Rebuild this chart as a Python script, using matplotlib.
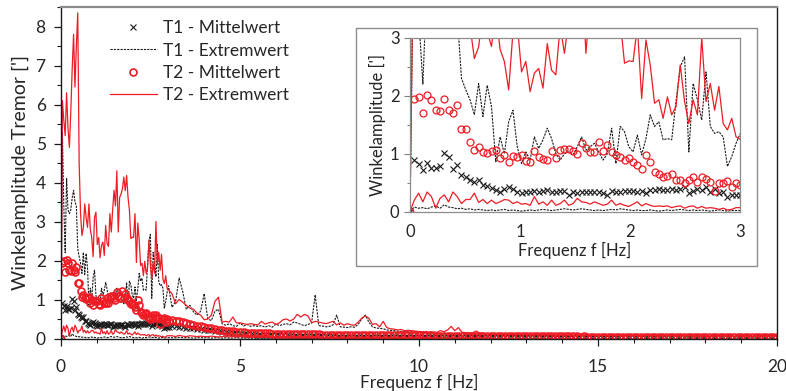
import numpy as np
import matplotlib
matplotlib.use('Agg')
import matplotlib.pyplot as plt
from matplotlib.patches import Rectangle
from matplotlib.ticker import MultipleLocator

plt.rcParams['font.family'] = ['Lato', 'DejaVu Sans']

# frequency grid: fine resolution below 3 Hz, 0.1 Hz steps above
f_lo = np.arange(78) * 0.039
f_hi = np.round(np.arange(31, 201) / 10, 1)

# ---- T1 Mittelwert ----
t1_mean_lo = [0, 0.9, 0.83, 0.72, 0.84, 0.75, 0.76, 0.79, 1.02, 0.95,
              0.74, 0.8, 0.63, 0.6, 0.55, 0.52, 0.55, 0.46, 0.44, 0.41,
              0.37, 0.34, 0.4, 0.42, 0.39, 0.34, 0.32, 0.34, 0.34, 0.36,
              0.34, 0.36, 0.37, 0.34, 0.34, 0.36, 0.36, 0.29, 0.34, 0.33,
              0.34, 0.34, 0.34, 0.34, 0.34, 0.32, 0.29, 0.36, 0.34, 0.34,
              0.36, 0.36, 0.36, 0.34, 0.36, 0.33, 0.37, 0.37, 0.4, 0.37,
              0.37, 0.4, 0.37, 0.4, 0.43, 0.33, 0.36, 0.39, 0.37, 0.43,
              0.34, 0.39, 0.32, 0.34, 0.26, 0.29, 0.29, 0.29]
t1_mean_hi = [0.32, 0.31, 0.30, 0.29, 0.28, 0.27, 0.26, 0.25, 0.24, 0.23,
              0.22, 0.21, 0.20, 0.18, 0.17, 0.16, 0.15, 0.14, 0.13, 0.12,
              0.12, 0.11, 0.11, 0.10, 0.10, 0.10, 0.09, 0.09, 0.09, 0.08,
              0.08, 0.08, 0.08, 0.07, 0.07, 0.07, 0.07, 0.07, 0.06, 0.06,
              0.06, 0.06, 0.06, 0.06, 0.05, 0.06, 0.05, 0.05, 0.05, 0.05,
              0.05, 0.05, 0.05, 0.05, 0.05, 0.04, 0.05, 0.04, 0.04, 0.04,
              0.04, 0.04, 0.04, 0.04, 0.04, 0.04, 0.04, 0.04, 0.04, 0.04,
              0.04, 0.04, 0.03, 0.04, 0.04, 0.03, 0.04, 0.03, 0.03, 0.03,
              0.03, 0.03, 0.03, 0.03, 0.03, 0.03, 0.03, 0.03, 0.03, 0.03,
              0.03, 0.03, 0.03, 0.03, 0.03, 0.03, 0.03, 0.03, 0.03, 0.03,
              0.03, 0.03, 0.03, 0.03, 0.03, 0.03, 0.03, 0.03, 0.03, 0.03,
              0.03, 0.03, 0.03, 0.03, 0.03, 0.03, 0.03, 0.03, 0.03, 0.03,
              0.03, 0.03, 0.03, 0.03, 0.03, 0.03, 0.03, 0.03, 0.03, 0.03,
              0.03, 0.03, 0.03, 0.03, 0.03, 0.03, 0.03, 0.03, 0.03, 0.03,
              0.03, 0.03, 0.03, 0.03, 0.03, 0.03, 0.03, 0.03, 0.03, 0.03,
              0.03, 0.03, 0.03, 0.03, 0.03, 0.03, 0.03, 0.03, 0.03, 0.03,
              0.03, 0.03, 0.03, 0.03, 0.03, 0.03, 0.03, 0.03, 0.03, 0.03]

# ---- T1 Extremwert (upper and lower envelope) ----
t1_max_lo = [0, 5.3, 3.4, 2.2, 4.1, 3.3, 3.2, 3.3, 3.6, 3.8,
             3.5, 3.4, 2.3, 2.1, 1.93, 1.67, 2.21, 1.64, 2.18, 1.81,
             0.86, 1.29, 1.0, 1.55, 1.75, 1.12, 0.83, 1.03, 0.89, 1.29,
             1.09, 1.24, 1.44, 1.26, 1.0, 0.89, 1.0, 1.03, 0.98, 1.12,
             1.29, 1.06, 1.12, 1.18, 1.03, 0.89, 1.0, 1.44, 0.83, 1.47,
             1.38, 1.12, 1.03, 1.32, 0.98, 1.26, 1.67, 1.47, 1.55, 1.24,
             1.26, 1.24, 1.9, 2.5, 2.67, 1.03, 2.21, 1.93, 1.58, 2.41,
             1.47, 1.35, 1.38, 1.29, 0.78, 0.95, 1.18, 1.35]
t1_max_hi = [0.8, 0.95, 1.55, 1.2, 0.75, 0.85, 0.68, 0.6, 0.7, 1.15,
             0.5, 0.46, 0.7, 0.75, 0.38, 0.34, 0.38, 0.33, 0.31, 0.4,
             0.32, 0.36, 0.31, 0.33, 0.31, 0.33, 0.29, 0.33, 0.29, 0.37,
             0.33, 0.36, 0.38, 0.35, 0.42, 0.4, 0.36, 0.33, 0.36, 0.4,
             1.12, 0.33, 0.32, 0.3, 0.31, 0.35, 0.6, 0.3, 0.29, 0.28,
             0.3, 0.29, 0.36, 0.5, 0.6, 0.42, 0.3, 0.27, 0.26, 0.25,
             0.22, 0.21, 0.2, 0.19, 0.18, 0.18, 0.17, 0.17, 0.16, 0.15,
             0.15, 0.14, 0.14, 0.13, 0.13, 0.12, 0.12, 0.12, 0.11, 0.11,
             0.11, 0.1, 0.1, 0.1, 0.09, 0.09, 0.09, 0.08, 0.08, 0.08,
             0.08, 0.08, 0.07, 0.08, 0.07, 0.07, 0.07, 0.07, 0.07, 0.06,
             0.06, 0.07, 0.06, 0.06, 0.06, 0.06, 0.06, 0.06, 0.06, 0.06,
             0.06, 0.06, 0.05, 0.06, 0.06, 0.05, 0.06, 0.05, 0.05, 0.05,
             0.05, 0.05, 0.05, 0.05, 0.05, 0.05, 0.05, 0.05, 0.05, 0.05,
             0.05, 0.05, 0.05, 0.04, 0.05, 0.05, 0.04, 0.05, 0.04, 0.04,
             0.04, 0.04, 0.04, 0.04, 0.04, 0.04, 0.04, 0.04, 0.04, 0.04,
             0.04, 0.04, 0.04, 0.04, 0.04, 0.04, 0.04, 0.04, 0.04, 0.04,
             0.04, 0.04, 0.04, 0.04, 0.04, 0.04, 0.04, 0.04, 0.04, 0.04]
t1_min_lo = [0, 0.08, 0.06, 0.07, 0.05, 0.08, 0.1, 0.06, 0.12, 0.08,
             0.07, 0.05, 0.06, 0.04, 0.05, 0.03, 0.04, 0.03, 0.02, 0.03,
             0.02, 0.03, 0.04, 0.02, 0.03, 0.02, 0.01, 0.02, 0.03, 0.02,
             0.03, 0.04, 0.03, 0.02, 0.03, 0.04, 0.05, 0.04, 0.03, 0.04,
             0.05, 0.04, 0.03, 0.02, 0.03, 0.02, 0.03, 0.04, 0.03, 0.05,
             0.04, 0.03, 0.02, 0.03, 0.02, 0.02, 0.03, 0.02, 0.01, 0.02,
             0.03, 0.02, 0.03, 0.04, 0.03, 0.02, 0.03, 0.02, 0.03, 0.02,
             0.01, 0.02, 0.03, 0.02, 0.01, 0.02, 0.02, 0.02]
t1_min_hi = [0.02, 0.02, 0.03, 0.02, 0.02, 0.02, 0.01, 0.02, 0.02, 0.02,
             0.02, 0.01, 0.02, 0.02, 0.01, 0.02, 0.01, 0.01, 0.02, 0.01,
             0.01, 0.01, 0.01, 0.01, 0.01, 0.01, 0.01, 0.01, 0.01, 0.01,
             0.01, 0.01, 0.01, 0.01, 0.01, 0.01, 0.01, 0.01, 0.01, 0.01,
             0.01, 0.01, 0.01, 0.01, 0.01, 0.01, 0.01, 0.01, 0.01, 0.01,
             0.01, 0.01, 0.01, 0.01, 0.01, 0.01, 0.01, 0.01, 0.01, 0.01]

# ---- T2 Mittelwert ----
t2_mean_lo = [0, 1.94, 1.98, 1.71, 2.01, 1.93, 1.76, 1.74, 1.94, 1.75,
              1.71, 1.84, 1.43, 1.42, 1.21, 1.06, 1.12, 1.03, 1.02, 1.05,
              1.06, 0.92, 0.98, 0.86, 0.96, 0.95, 0.97, 0.88, 0.86, 1.05,
              0.95, 0.91, 0.90, 1.05, 0.92, 1.06, 1.08, 1.08, 1.05, 0.99,
              1.18, 1.09, 1.03, 1.03, 1.21, 1.05, 1.15, 1.03, 0.98, 0.95,
              0.89, 0.92, 0.85, 0.80, 0.74, 0.98, 0.85, 0.69, 0.65, 0.59,
              0.62, 0.65, 0.55, 0.55, 0.49, 0.55, 0.60, 0.52, 0.60, 0.56,
              0.52, 0.36, 0.49, 0.49, 0.53, 0.43, 0.49, 0.46]
t2_mean_hi = [0.47, 0.46, 0.44, 0.42, 0.40, 0.38, 0.35, 0.33, 0.31, 0.29,
              0.27, 0.26, 0.24, 0.22, 0.21, 0.20, 0.19, 0.18, 0.17, 0.16,
              0.16, 0.15, 0.15, 0.14, 0.14, 0.13, 0.13, 0.13, 0.12, 0.12,
              0.12, 0.12, 0.12, 0.12, 0.11, 0.11, 0.11, 0.11, 0.11, 0.11,
              0.11, 0.11, 0.10, 0.10, 0.10, 0.10, 0.10, 0.10, 0.10, 0.10,
              0.10, 0.09, 0.09, 0.09, 0.09, 0.09, 0.09, 0.09, 0.09, 0.09,
              0.09, 0.08, 0.08, 0.08, 0.08, 0.08, 0.08, 0.08, 0.08, 0.08,
              0.08, 0.08, 0.08, 0.07, 0.07, 0.07, 0.07, 0.07, 0.07, 0.07,
              0.07, 0.07, 0.07, 0.07, 0.07, 0.06, 0.06, 0.06, 0.06, 0.06,
              0.06, 0.06, 0.06, 0.06, 0.06, 0.06, 0.06, 0.06, 0.06, 0.06,
              0.06, 0.06, 0.06, 0.06, 0.06, 0.06, 0.06, 0.06, 0.06, 0.06,
              0.06, 0.06, 0.06, 0.06, 0.05, 0.06, 0.05, 0.05, 0.05, 0.05,
              0.05, 0.05, 0.05, 0.05, 0.05, 0.05, 0.05, 0.05, 0.05, 0.05,
              0.05, 0.05, 0.05, 0.05, 0.05, 0.05, 0.05, 0.05, 0.05, 0.05,
              0.05, 0.05, 0.05, 0.05, 0.05, 0.05, 0.05, 0.05, 0.05, 0.05,
              0.05, 0.05, 0.05, 0.05, 0.05, 0.05, 0.05, 0.05, 0.05, 0.05,
              0.05, 0.05, 0.05, 0.05, 0.05, 0.05, 0.05, 0.05, 0.05, 0.05]

# ---- T2 Extremwert (upper and lower envelope) ----
t2_max_lo = [0, 6.1, 5.6, 5.2, 6.3, 5.4, 4.9, 5.8, 6.9, 7.8,
             6.45, 7.5, 8.35, 4.5, 3.2, 2.64, 2.84, 3.45, 3.1, 2.85,
             3.45, 2.8, 2.59, 2.1, 3.1, 3.24, 2.41, 2.59, 2.07, 2.39,
             2.47, 2.13, 2.9, 2.44, 2.36, 3.2, 2.73, 3.3, 3.8, 3.4,
             4.3, 2.73, 3.62, 3.7, 3.84, 4.14, 3.79, 4.18, 3.62, 3.3,
             2.56, 2.6, 2.59, 3.2, 1.95, 2.96, 2.53, 1.87, 1.93, 1.61,
             1.98, 1.67, 1.81, 2.53, 1.9, 1.52, 1.93, 1.67, 3.0, 1.9,
             2.21, 1.75, 2.16, 1.52, 1.41, 1.61, 1.29, 1.25]
t2_max_hi = [1.15, 0.89, 1.0, 0.93, 0.85, 0.78, 0.75, 0.65, 0.6, 0.48,
             0.5, 0.6, 0.95, 1.06, 0.42, 0.44, 0.42, 0.55, 0.4, 0.4,
             0.38, 0.36, 0.38, 0.36, 0.35, 0.44, 0.37, 0.4, 0.42, 0.36,
             0.4, 0.48, 0.5, 0.45, 0.5, 0.62, 0.55, 0.62, 0.58, 0.4,
             0.44, 0.42, 0.4, 0.38, 0.41, 0.44, 0.35, 0.4, 0.34, 0.38,
             0.35, 0.34, 0.42, 0.52, 0.58, 0.52, 0.36, 0.38, 0.3, 0.44,
             0.28, 0.25, 0.24, 0.22, 0.23, 0.2, 0.21, 0.2, 0.19, 0.18,
             0.17, 0.17, 0.16, 0.17, 0.16, 0.2, 0.17, 0.22, 0.31, 0.2,
             0.28, 0.16, 0.15, 0.14, 0.15, 0.19, 0.14, 0.13, 0.12, 0.12,
             0.11, 0.12, 0.11, 0.1, 0.11, 0.1, 0.1, 0.11, 0.1, 0.1,
             0.1, 0.09, 0.1, 0.09, 0.09, 0.1, 0.09, 0.09, 0.08, 0.09,
             0.09, 0.08, 0.09, 0.09, 0.08, 0.08, 0.09, 0.08, 0.08, 0.08,
             0.08, 0.08, 0.07, 0.08, 0.08, 0.07, 0.08, 0.07, 0.07, 0.08,
             0.07, 0.07, 0.08, 0.07, 0.07, 0.07, 0.06, 0.07, 0.07, 0.07,
             0.07, 0.06, 0.07, 0.07, 0.06, 0.07, 0.06, 0.06, 0.07, 0.06,
             0.06, 0.06, 0.06, 0.07, 0.06, 0.06, 0.06, 0.05, 0.06, 0.06,
             0.06, 0.05, 0.06, 0.06, 0.05, 0.06, 0.05, 0.05, 0.06, 0.05]
t2_min_lo = [0, 0.2, 0.32, 0.17, 0.34, 0.26, 0.06, 0.23, 0.29, 0.17,
             0.34, 0.26, 0.14, 0.21, 0.21, 0.32, 0.16, 0.21, 0.14, 0.2,
             0.14, 0.17, 0.21, 0.2, 0.14, 0.17, 0.13, 0.14, 0.11, 0.26,
             0.13, 0.17, 0.11, 0.2, 0.11, 0.14, 0.2, 0.11, 0.14, 0.23,
             0.17, 0.16, 0.13, 0.17, 0.14, 0.11, 0.13, 0.2, 0.11, 0.14,
             0.11, 0.09, 0.13, 0.17, 0.1, 0.14, 0.11, 0.09, 0.1, 0.09,
             0.1, 0.07, 0.09, 0.1, 0.06, 0.09, 0.1, 0.06, 0.09, 0.06,
             0.07, 0.06, 0.04, 0.06, 0.03, 0.04, 0.07, 0.07]
t2_min_hi = [0.07, 0.05, 0.08, 0.06, 0.05, 0.07, 0.06, 0.05, 0.06, 0.05,
             0.05, 0.06, 0.05, 0.04, 0.05, 0.06, 0.04, 0.05, 0.04, 0.05,
             0.04, 0.05, 0.04, 0.04, 0.05, 0.04, 0.04, 0.03, 0.04, 0.04,
             0.04, 0.03, 0.04, 0.04, 0.03, 0.04, 0.03, 0.03, 0.04, 0.03,
             0.03, 0.04, 0.03, 0.03, 0.03, 0.04, 0.03, 0.03, 0.03, 0.03,
             0.03, 0.03, 0.03, 0.04, 0.03, 0.03, 0.03, 0.03, 0.03, 0.03,
             0.03, 0.03, 0.02, 0.03, 0.03, 0.03, 0.02, 0.03, 0.03, 0.02,
             0.02, 0.03, 0.02, 0.02, 0.03, 0.02, 0.02, 0.02, 0.02, 0.02,
             0.02, 0.02, 0.02, 0.02, 0.02, 0.02, 0.02, 0.02, 0.02, 0.02]

labels = ['T1 - Mittelwert', 'T1 - Extremwert', 'T2 - Mittelwert', 'T2 - Extremwert']

RED = '#ee1c24'
BLACK = '#1a1a1a'
TXT = '#262626'


def series(lo, hi):
    y = np.array(lo + hi, dtype=float)
    f = np.concatenate([f_lo, f_hi])[:len(y)]
    return f, y


def draw(ax, circle_ew=0.9):
    f, y = series(t1_mean_lo, t1_mean_hi)
    ax.plot(f, y, ls='none', marker='x', ms=4.5, mew=0.8, color=BLACK, label=labels[0])
    f, y = series(t1_max_lo, t1_max_hi)
    ax.plot(f, y, ls=(0, (2, 1)), lw=0.8, color=BLACK, label=labels[1])
    f, y = series(t1_min_lo, t1_min_hi)
    ax.plot(f, y, ls=(0, (2, 1)), lw=0.8, color=BLACK)
    f, y = series(t2_mean_lo, t2_mean_hi)
    ax.plot(f, y, ls='none', marker='o', ms=5, mew=circle_ew, mfc='none', mec=RED, label=labels[2])
    f, y = series(t2_max_lo, t2_max_hi)
    ax.plot(f, y, ls='-', lw=0.9, color=RED, label=labels[3])
    f, y = series(t2_min_lo, t2_min_hi)
    ax.plot(f, y, ls='-', lw=0.9, color=RED)


fig = plt.figure(figsize=(7.86, 3.91), dpi=100)
W, H = 786, 391

# main axes
ax = fig.add_axes([61 / W, (H - 338.5) / H, 716 / W, 331.5 / H])
draw(ax, circle_ew=1.2)
ax.set_xlim(0, 20)
ax.set_ylim(0, 8.5)
ax.xaxis.set_major_locator(MultipleLocator(5))
ax.xaxis.set_minor_locator(MultipleLocator(1))
ax.yaxis.set_major_locator(MultipleLocator(1))
ax.yaxis.set_minor_locator(MultipleLocator(0.5))
ax.tick_params(which='both', direction='out', colors=BLACK, labelcolor=TXT, labelsize=12.5)
ax.tick_params(which='major', length=5, width=0.9)
ax.tick_params(which='minor', length=3, width=0.8)
ax.tick_params(axis='x', pad=10)
ax.tick_params(axis='y', pad=6)
for s in ['left', 'bottom', 'right']:
    ax.spines[s].set_color(BLACK)
    ax.spines[s].set_linewidth(1.0)
ax.spines['top'].set_color('#8c8c8c')
ax.spines['top'].set_linewidth(1.6)
ax.set_xlabel('Frequenz f [Hz]', fontsize=12.5, color=TXT, labelpad=-1)
ax.set_ylabel("Winkelamplitude Tremor [']", fontsize=14, color=TXT, labelpad=5)

ax.legend(loc='upper left', bbox_to_anchor=(0.068, 0.96), frameon=False,
          fontsize=12.5, handlelength=2.7, handletextpad=0.35,
          labelspacing=0.36, borderpad=0, borderaxespad=0, labelcolor=TXT)

# inset frame
frame = Rectangle((356 / W, (H - 266) / H), 401 / W, 238 / H, transform=fig.transFigure,
                  facecolor='white', edgecolor='#8c8c8c', lw=1.0, zorder=1)
fig.patches.append(frame)

ins = fig.add_axes([410 / W, (H - 211.7) / H, 330 / W, 174 / H], zorder=2)
draw(ins)
ins.set_xlim(0, 3)
ins.set_ylim(0, 3)
ins.xaxis.set_major_locator(MultipleLocator(1))
ins.yaxis.set_major_locator(MultipleLocator(1))
ins.yaxis.set_minor_locator(MultipleLocator(0.5))
ins.tick_params(which='both', direction='out', colors='#808080', labelcolor=TXT, labelsize=12)
ins.tick_params(which='major', length=4, width=0.8)
ins.tick_params(which='minor', length=2.5, width=0.8)
ins.tick_params(axis='x', length=0, pad=9)
for s in ins.spines.values():
    s.set_color('#8c8c8c')
    s.set_linewidth(0.9)
ins.set_xlabel('Frequenz f [Hz]', fontsize=12, color=TXT, labelpad=1)
ins.set_ylabel("Winkelamplitude [']", fontsize=12, color=TXT, labelpad=3)

fig.savefig('out.png', dpi=100)
